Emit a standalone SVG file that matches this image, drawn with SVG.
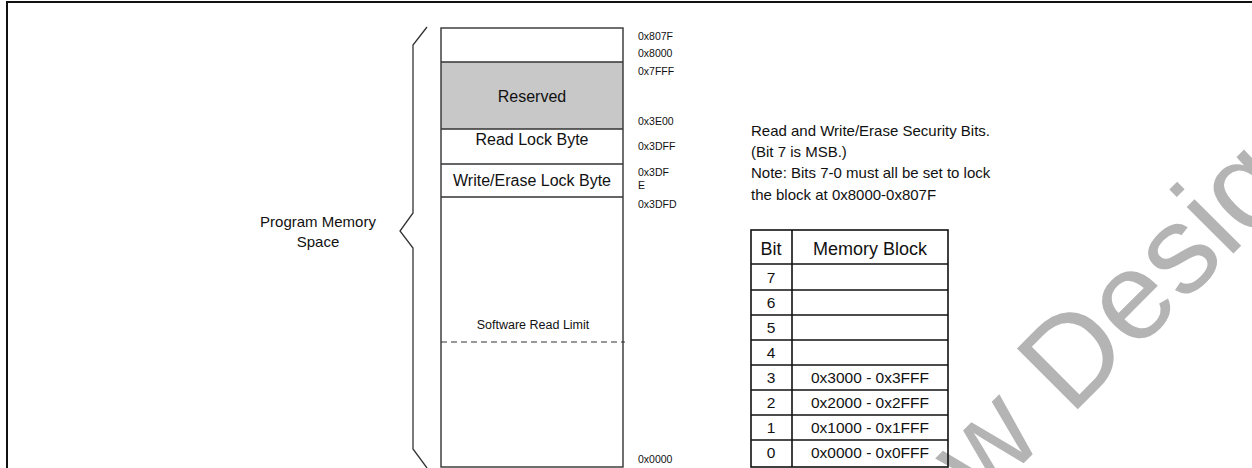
<svg xmlns="http://www.w3.org/2000/svg" width="1252" height="468" viewBox="0 0 1252 468">
<style>
  text { font-family: "Liberation Sans", Arial, sans-serif; fill: #111; }
  .row { font-size: 16px; text-anchor: middle; }
  .addr { font-size: 10.5px; }
  .note { font-size: 15px; }
  .cell { font-size: 15.5px; text-anchor: middle; }
  .hdr { font-size: 18px; text-anchor: middle; }
  .box { fill: none; stroke: #333; stroke-width: 1.4; }
  .tbl { fill: none; stroke: #111; stroke-width: 1.6; }
  .wm { font-size: 125px; fill: #b4b4b4; }
</style>
<rect width="1252" height="468" fill="#fff"/>
<!-- frame -->
<g id="frame" stroke="#111" stroke-width="2" fill="none">
  <line x1="6" y1="2" x2="1252" y2="2"/>
  <line x1="7" y1="1" x2="7" y2="468"/>
</g>
<!-- watermark -->
<g id="watermark">
  <text class="wm" transform="translate(982,505) rotate(-45)">w Desig</text>
</g>
<!-- memory map -->
<g id="memory-map">
  <rect x="441" y="62" width="182" height="67" fill="#c8c8c8" stroke="none"/>
  <rect class="box" x="441" y="28" width="182" height="439"/>
  <line class="box" x1="441" y1="62" x2="623" y2="62"/>
  <line class="box" x1="441" y1="129" x2="623" y2="129"/>
  <line class="box" x1="441" y1="164" x2="623" y2="164"/>
  <line class="box" x1="441" y1="197" x2="623" y2="197"/>
</g>
<g id="reserved"><text class="row" x="532" y="102">Reserved</text></g>
<g id="read-lock"><text class="row" x="532" y="145">Read Lock Byte</text></g>
<g id="write-lock"><text class="row" x="532" y="186">Write/Erase Lock Byte</text></g>
<g id="read-limit">
  <line x1="441" y1="342" x2="625" y2="342" stroke="#333" stroke-width="1.2" stroke-dasharray="6,4"/>
  <text x="533" y="329" font-size="12.5" text-anchor="middle">Software Read Limit</text>
</g>
<!-- addresses -->
<g id="addresses">
  <text class="addr" x="638" y="40">0x807F</text>
  <text class="addr" x="638" y="57">0x8000</text>
  <text class="addr" x="638" y="75">0x7FFF</text>
  <text class="addr" x="638" y="125">0x3E00</text>
  <text class="addr" x="638" y="150">0x3DFF</text>
  <text class="addr" x="638" y="176">0x3DF</text>
  <text class="addr" x="638" y="189">E</text>
  <text class="addr" x="638" y="208">0x3DFD</text>
  <text class="addr" x="638" y="463">0x0000</text>
</g>
<!-- brace -->
<g id="brace">
  <path d="M427,27 L413,45 L413,213 L400,231 L413,248 L413,449 L427,468" fill="none" stroke="#333" stroke-width="1.3"/>
  <text x="318" y="227" font-size="15" text-anchor="middle">Program Memory</text>
  <text x="318" y="247" font-size="15" text-anchor="middle">Space</text>
</g>
<!-- notes -->
<g id="notes">
  <text class="note" x="751" y="136">Read and Write/Erase Security Bits.</text>
  <text class="note" x="751" y="157">(Bit 7 is MSB.)</text>
  <text class="note" x="751" y="178">Note: Bits 7-0 must all be set to lock</text>
  <text class="note" x="751" y="200">the block at 0x8000-0x807F</text>
</g>
<!-- table -->
<g id="bit-table">
  <rect class="tbl" x="751" y="230" width="197" height="237" stroke-width="2"/>
  <line class="tbl" x1="792" y1="230" x2="792" y2="467" stroke-width="2"/>
  <line class="tbl" x1="751" y1="264" x2="948" y2="264"/>
  <line class="tbl" x1="751" y1="290" x2="948" y2="290"/>
  <line class="tbl" x1="751" y1="315" x2="948" y2="315"/>
  <line class="tbl" x1="751" y1="340" x2="948" y2="340"/>
  <line class="tbl" x1="751" y1="365" x2="948" y2="365"/>
  <line class="tbl" x1="751" y1="390" x2="948" y2="390"/>
  <line class="tbl" x1="751" y1="415" x2="948" y2="415"/>
  <line class="tbl" x1="751" y1="440" x2="948" y2="440"/>
  <text class="hdr" x="771" y="255">Bit</text>
  <text class="hdr" x="870" y="255">Memory Block</text>
  <text class="cell" x="771" y="283">7</text>
  <text class="cell" x="771" y="308">6</text>
  <text class="cell" x="771" y="333">5</text>
  <text class="cell" x="771" y="358">4</text>
  <text class="cell" x="771" y="383">3</text>
  <text class="cell" x="771" y="408">2</text>
  <text class="cell" x="771" y="433">1</text>
  <text class="cell" x="771" y="458">0</text>
  <text class="cell" x="870" y="383">0x3000 - 0x3FFF</text>
  <text class="cell" x="870" y="408">0x2000 - 0x2FFF</text>
  <text class="cell" x="870" y="433">0x1000 - 0x1FFF</text>
  <text class="cell" x="870" y="458">0x0000 - 0x0FFF</text>
</g>
</svg>
